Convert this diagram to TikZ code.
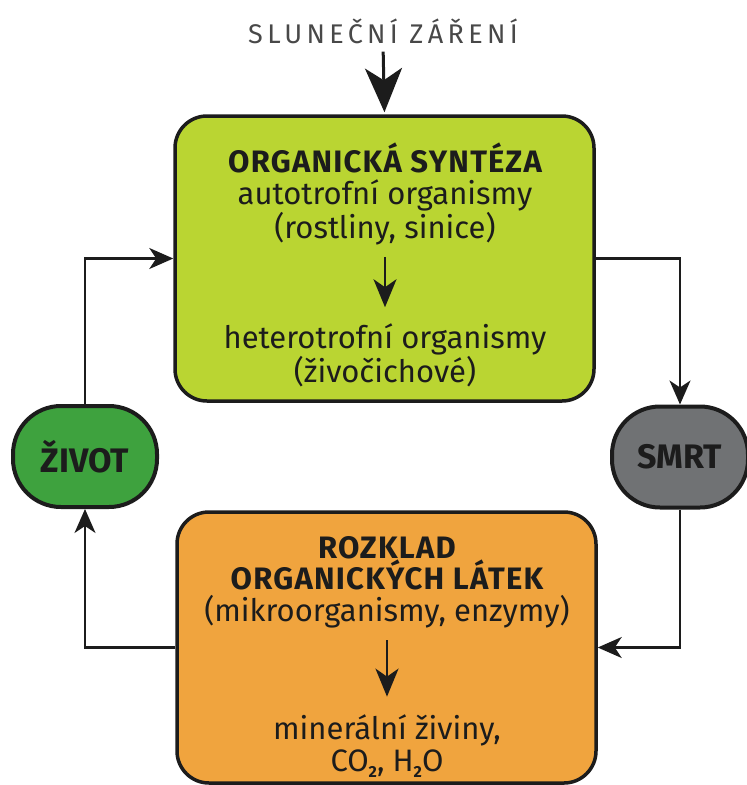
\documentclass[tikz,border=0pt]{standalone}
\usepackage{fontspec}
\setmainfont{Fira Sans}
\newfontfamily\spacedfont{Fira Sans}[LetterSpace=16]
\newfontfamily\headfont{Fira Sans}[LetterSpace=4]
\usetikzlibrary{arrows.meta}
\definecolor{limeg}{RGB}{186,213,50}
\definecolor{lifeg}{RGB}{62,162,62}
\definecolor{deathg}{RGB}{112,114,116}
\definecolor{orng}{RGB}{240,164,62}
\definecolor{inkc}{RGB}{28,28,28}
\definecolor{titleg}{RGB}{72,72,72}
\newcommand{\subtwo}{\raisebox{-6pt}{\fontsize{16}{16}\selectfont\bfseries 2}}
\newcommand{\hd}[1]{{\fontsize{31}{31}\selectfont\headfont\bfseries #1}}
\tikzset{
  bigbox/.style={draw=inkc, line width=3.5pt, rounded corners=32pt, minimum width=419pt, inner sep=0pt},
  pill/.style={draw=inkc, line width=4pt, rounded corners=48pt, minimum width=144pt, minimum height=101pt, inner sep=0pt, font=\fontsize{34}{34}\selectfont\bfseries, text=inkc},
  txt/.style={align=center, inner sep=0pt, text=inkc, font=\fontsize{31}{31.5}\selectfont},
  conn/.style={draw=inkc, line width=2.3pt, -{Stealth[length=24pt,width=21pt,inset=7pt]}},
  inarrow/.style={draw=inkc, line width=2.6pt, -{Stealth[length=28pt,width=23pt,inset=8pt]}}
}
\begin{document}
\begin{tikzpicture}[x=1pt,y=-1pt]
\useasboundingbox (0,0) rectangle (747,785);
% title
\node[inner sep=0pt, text=titleg, font=\fontsize{27}{28}\selectfont\spacedfont] (sun) at (383,31) {SLUNEČNÍ ZÁŘENÍ};
% boxes
\node[bigbox, fill=limeg, minimum height=285pt] (green) at (384.5,258.5) {};
\node[bigbox, fill=orng, minimum height=271pt] (orange) at (386.5,647.5) {};
\node[pill, fill=lifeg] (zivot) at (85,456.5) {ŽIVOT};
\node[pill, fill=deathg, minimum width=136pt] (smrt) at (680,457) {SMRT};
% texts in green box
\node[txt] (g1) at (385,194) {\hd{ORGANICKÁ SYNTÉZA}\\autotrofní organismy\\(rostliny, sinice)};
\node[txt] (g2) at (385,355) {heterotrofní organismy\\(živočichové)};
\draw[inarrow, shorten <=12pt, shorten >=16pt] (g1.south) -- (g2.north);
% texts in orange box
\node[txt] (o1) at (387,582) {\hd{ROZKLAD}\\\hd{ORGANICKÝCH LÁTEK}\\(mikroorganismy, enzymy)};
\node[txt] (o2) at (387,746) {minerální živiny,\\CO\subtwo, H\subtwo O};
\draw[inarrow, shorten <=12pt, shorten >=18pt] (o1.south) -- (o2.north);
% top arrow
\draw[draw=inkc, line width=3pt, -{Stealth[length=44pt,width=37pt,inset=12pt]}, shorten <=8pt, shorten >=2pt] (sun.south) -- (green.north);
% cycle connectors
\draw[conn] (zivot.north) |- (green.west);
\draw[conn] (green.east) -| (smrt.north);
\draw[conn] (smrt.south) |- (orange.east);
\draw[conn] (orange.west) -| (zivot.south);
\end{tikzpicture}
\end{document}
